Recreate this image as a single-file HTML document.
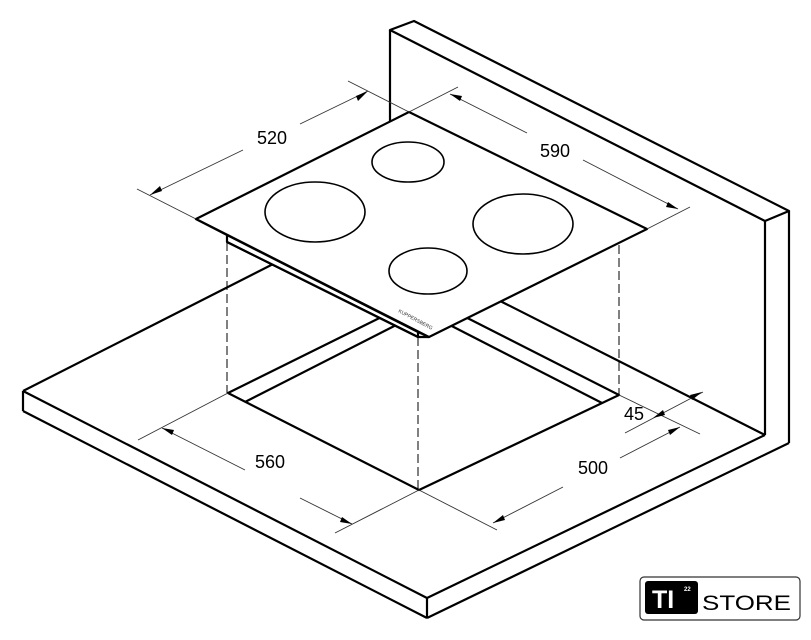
<!DOCTYPE html>
<html><head><meta charset="utf-8"><style>
html,body{margin:0;padding:0;background:#fff;}
svg{display:block;}
text{font-family:"Liberation Sans",sans-serif;}
</style></head><body>
<svg width="811" height="640" viewBox="0 0 811 640" xmlns="http://www.w3.org/2000/svg">
<g fill="none" stroke="#000" stroke-width="2.2" stroke-linejoin="round">
<!-- wall -->
<polygon points="390,30 414,21 789,211 765,221" fill="#fff"/>
<line x1="390" y1="30" x2="390" y2="200"/>
<line x1="765" y1="221" x2="765" y2="435"/>
<line x1="789" y1="211" x2="789" y2="443"/>
<!-- countertop -->
<line x1="23" y1="391" x2="350" y2="225"/>
<line x1="350" y1="225" x2="765" y2="435"/>
<line x1="23" y1="391" x2="427" y2="598"/>
<line x1="427" y1="598" x2="765" y2="435"/>
<line x1="23" y1="391" x2="23" y2="411"/>
<line x1="23" y1="411" x2="427" y2="618"/>
<line x1="427" y1="598" x2="427" y2="618"/>
<line x1="427" y1="618" x2="789" y2="443"/>
<!-- cutout -->
<polygon points="228,393 419,490 619,395 424,296" fill="#fff"/>
<line x1="245" y1="402" x2="410" y2="318"/>
<line x1="602" y1="403" x2="440" y2="320"/>
</g>
<!-- dashed -->
<g stroke="#000" stroke-width="1" stroke-dasharray="9,4" fill="none">
<line x1="227" y1="242" x2="227" y2="393"/>
<line x1="418" y1="337" x2="418" y2="490"/>
<line x1="619" y1="245" x2="619" y2="395"/>
</g>
<!-- hob -->
<g stroke="#000" stroke-width="2.2" fill="#fff" stroke-linejoin="round">
<polygon points="196,219 227,235 227,242 418,337 429,337 418,332 227,235" />
<line x1="227" y1="242" x2="418" y2="337"/>
<line x1="418" y1="332" x2="418" y2="337"/>
<polygon points="196,219 409,112 647,229 429,337"/>
<g fill="none" stroke-width="1.6">
<ellipse cx="315" cy="212" rx="50" ry="30"/>
<ellipse cx="408" cy="162" rx="36" ry="20"/>
<ellipse cx="523" cy="224" rx="50" ry="30"/>
<ellipse cx="428" cy="271" rx="39" ry="23"/>
</g>
</g>
<text x="0" y="0" font-size="5" transform="translate(398,312) rotate(28)" fill="#333">KUPPERSBERG</text>
<!-- dimension lines -->
<g stroke="#333" stroke-width="0.9" fill="none">
<line x1="196" y1="219" x2="137" y2="189"/>
<line x1="409" y1="112" x2="348" y2="81"/>
<line x1="150" y1="195" x2="243" y2="150"/>
<line x1="300" y1="124" x2="368" y2="91"/>
<line x1="409" y1="112" x2="458" y2="87"/>
<line x1="647" y1="229" x2="690" y2="207"/>
<line x1="450" y1="94" x2="527" y2="133"/>
<line x1="583" y1="160" x2="678" y2="209"/>
<line x1="228" y1="393" x2="138" y2="440"/>
<line x1="419" y1="490" x2="335" y2="533"/>
<line x1="162" y1="428" x2="245" y2="470"/>
<line x1="300" y1="498" x2="352" y2="524"/>
<line x1="419" y1="490" x2="497" y2="530"/>
<line x1="619" y1="395" x2="700" y2="434"/>
<line x1="493" y1="523" x2="563" y2="487"/>
<line x1="620" y1="458" x2="680" y2="427"/>
<line x1="625" y1="433" x2="703" y2="392"/>
</g>
<g fill="#000">
<polygon points="150,195 160,186 162,191"/>
<polygon points="368,91 356,96 358,101"/>
<polygon points="450,94 462,96 460,101"/>
<polygon points="678,209 666,207 668,202"/>
<polygon points="162,428 174,430 172,435"/>
<polygon points="352,524 340,522 342,517"/>
<polygon points="493,523 503,515 505,520"/>
<polygon points="680,427 670,435 668,430"/>
<polygon points="653,418 663,410 665,415"/>
<polygon points="702,392 692,400 690,395"/>
</g>
<g font-size="18" fill="#000" text-anchor="middle">
<text x="272" y="144">520</text>
<text x="555" y="157">590</text>
<text x="270" y="468">560</text>
<text x="593" y="474">500</text>
<text x="634" y="420">45</text>
</g>
<!-- logo -->
<rect x="640" y="577" width="160" height="43" rx="4" fill="#fff" stroke="#333" stroke-width="1.2"/>
<rect x="645" y="581" width="53" height="33" rx="3" fill="#000"/>
<text x="652" y="608" font-size="25" font-weight="bold" fill="#fff">TI</text>
<text x="684" y="591" font-size="6" font-weight="bold" fill="#fff">22</text>
<text x="702" y="610" font-size="21" fill="#000" textLength="89" lengthAdjust="spacingAndGlyphs">STORE</text>
</svg>
</body></html>
